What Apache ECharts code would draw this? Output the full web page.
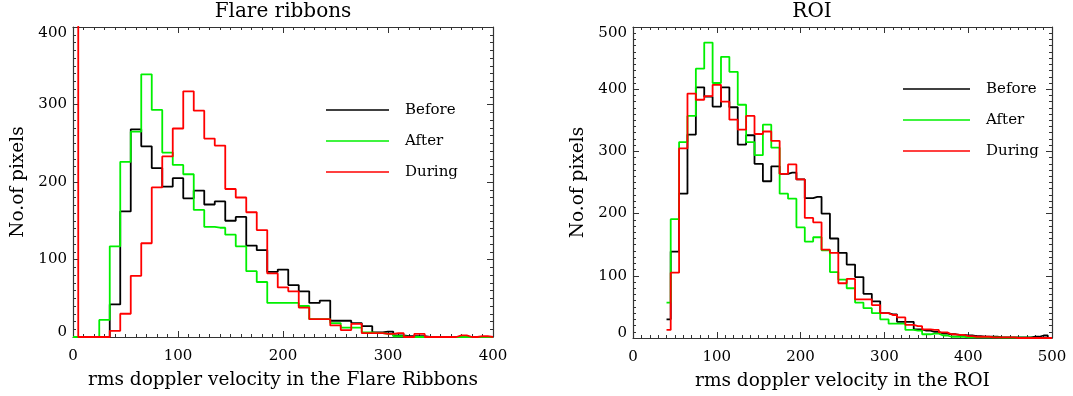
<!DOCTYPE html>
<html>
<head>
<meta charset="utf-8">
<script src="https://cdn.jsdelivr.net/npm/echarts@6/dist/echarts.min.js"></script>
<style>
  html, body { margin: 0; padding: 0; background: #fff; }
  #chart { width: 1073px; height: 396px; }
</style>
</head>
<body>
<div id="chart"></div>
<script>
// Histogram bin centres (rms doppler velocity)
const binsLeft = [0, 10, 20, 30, 40, 50, 60, 70, 80, 90,
  100, 110, 120, 130, 140, 150, 160, 170, 180, 190,
  200, 210, 220, 230, 240, 250, 260, 270, 280, 290,
  300, 310, 320, 330, 340, 350, 360, 370, 380, 390, 400];

// Flare ribbons: pixel counts per bin
const beforeLeft = [0, 0, 0, 0, 42, 162, 268, 246, 218, 194,
  205, 179, 189, 171, 175, 150, 155, 118, 112, 84,
  87, 67, 59, 44, 47, 21, 21, 18, 14, 6,
  7, 2, 1, 1, 0, 0, 0, 0, 0, 0, 0];
const afterLeft = [0, 0, 0, 22, 117, 226, 265, 339, 293, 238,
  222, 210, 164, 142, 141, 132, 117, 85, 71, 44,
  44, 44, 40, 23, 23, 18, 12, 12, 6, 5,
  4, 1, 0, 0, 0, 0, 0, 0, 0, 0, 0];
const duringLeft = [500, 0, 0, 0, 8, 30, 79, 121, 193, 233,
  269, 317, 292, 256, 247, 191, 180, 161, 138, 82,
  64, 59, 38, 23, 23, 15, 9, 17, 5, 5,
  4, 5, 0, 4, 0, 0, 0, 2, 0, 1, 0];

const binsRight = [40, 50, 60, 70, 80, 90, 100, 110, 120, 130,
  140, 150, 160, 170, 180, 190, 200, 210, 220, 230,
  240, 250, 260, 270, 280, 290, 300, 310, 320, 330,
  340, 350, 360, 370, 380, 390, 400, 410, 420, 430,
  440, 450, 460, 470, 480, 490, 500];

// ROI: pixel counts per bin
const beforeRight = [30, 139, 232, 327, 403, 388, 372, 403, 371, 311,
  326, 280, 252, 276, 264, 266, 255, 225, 227, 200,
  160, 137, 118, 98, 71, 59, 40, 38, 26, 26,
  14, 12, 10, 7, 6, 5, 4, 3, 2, 2,
  1, 1, 1, 1, 2, 4, 0];
const afterRight = [57, 191, 315, 357, 433, 475, 410, 452, 428, 375,
  315, 294, 343, 306, 232, 224, 178, 155, 162, 141,
  106, 94, 80, 57, 48, 40, 30, 23, 23, 13,
  12, 6, 7, 4, 2, 2, 1, 1, 1, 1,
  0.5, 0.5, 0.5, 0.5, 0, 0, 0];
const duringRight = [13, 105, 305, 393, 383, 389, 407, 380, 351, 335,
  357, 328, 332, 317, 264, 279, 255, 193, 186, 142,
  137, 88, 95, 62, 62, 53, 40, 37, 33, 21,
  19, 14, 13, 9, 6, 5, 3, 2, 2, 1,
  1, 1, 0, 0, 0, 0, 0];

const titles = ["Flare ribbons", "ROI"];
const xNames = ["rms doppler velocity in the Flare Ribbons", "rms doppler velocity in the ROI"];
const yName = "No.of pixels";
const seriesNames = ["Before", "After", "During"];
const seriesColors = ["#000000", "#00f000", "#ff0000"];

const FONT = "DejaVu Serif";

function pairs(xs, ys) {
  return xs.map((x, i) => [x, ys[i]]);
}

function valueAxis(grid, max, pos, main, name, nameGap) {
  const isX = pos === "bottom" || pos === "top";
  const label = {
    show: main,
    fontFamily: FONT,
    fontSize: 15,
    color: "#000",
    margin: isX ? 12 : 6
  };
  if (!isX) {
    // keep the end labels inside the frame, the way the original plot does
    label.formatter = (v) => v === 0 ? `{lo|${v}}` : (v === max ? `{hi|${v}}` : `${v}`);
    label.rich = {
      lo: { fontFamily: FONT, fontSize: 15, color: "#000", padding: [0, 0, 10, 0] },
      hi: { fontFamily: FONT, fontSize: 15, color: "#000", padding: [12, 0, 0, 0] }
    };
  }
  return {
    type: "value",
    gridIndex: grid,
    position: pos,
    min: 0,
    max: max,
    interval: 100,
    name: main ? name : "",
    nameLocation: "middle",
    nameGap: nameGap,
    nameTextStyle: { fontFamily: FONT, fontSize: 18.5, color: "#000" },
    axisLine: { show: true, onZero: false, lineStyle: { color: "#333", width: 1.2 } },
    axisTick: { show: true, inside: true, length: 6, lineStyle: { color: "#333" } },
    minorTick: { show: true, splitNumber: 10, length: 3, lineStyle: { color: "#333" } },
    axisLabel: label,
    splitLine: { show: false },
    minorSplitLine: { show: false }
  };
}

function histSeries(name, color, xi, yi, data) {
  return {
    name: name,
    type: "line",
    step: "middle",
    xAxisIndex: xi,
    yAxisIndex: yi,
    data: data,
    symbol: "none",
    clip: true,
    color: color,
    lineStyle: { color: color, width: 1.8 },
    animation: false
  };
}

const chart = echarts.init(document.getElementById("chart"));

const legendText = { fontFamily: FONT, fontSize: 15, color: "#000", lineHeight: 20, padding: [0, 0, 0, 11] };
const titleText = { fontFamily: FONT, fontSize: 20, fontWeight: "normal", color: "#000" };

chart.setOption({
  backgroundColor: "#fff",
  animation: false,
  title: [
    { text: titles[0], left: 283, top: 2, textAlign: "center", padding: 0, textStyle: titleText },
    { text: titles[1], left: 812, top: 2, textAlign: "center", padding: 0, textStyle: titleText }
  ],
  legend: [
    { data: seriesNames, orient: "vertical", left: 326, top: 100, padding: 0,
      icon: "rect", itemWidth: 63, itemHeight: 1.5, itemGap: 11, textStyle: legendText },
    { data: seriesNames, orient: "vertical", left: 903, top: 79, padding: 0,
      icon: "rect", itemWidth: 67, itemHeight: 1.5, itemGap: 11, textStyle: legendText }
  ],
  grid: [
    { left: 73, top: 27, width: 420, height: 310 },
    { left: 633, top: 27, width: 419, height: 311 }
  ],
  xAxis: [
    valueAxis(0, 400, "bottom", true, xNames[0], 34),
    valueAxis(0, 400, "top", false, "", 0),
    valueAxis(1, 500, "bottom", true, xNames[1], 34),
    valueAxis(1, 500, "top", false, "", 0)
  ],
  yAxis: [
    valueAxis(0, 400, "left", true, yName, 45),
    valueAxis(0, 400, "right", false, "", 0),
    valueAxis(1, 500, "left", true, yName, 45),
    valueAxis(1, 500, "right", false, "", 0)
  ],
  series: [
    histSeries(seriesNames[0], seriesColors[0], 0, 0, pairs(binsLeft, beforeLeft)),
    histSeries(seriesNames[1], seriesColors[1], 0, 0, pairs(binsLeft, afterLeft)),
    histSeries(seriesNames[2], seriesColors[2], 0, 0, pairs(binsLeft, duringLeft)),
    histSeries(seriesNames[0], seriesColors[0], 2, 2, pairs(binsRight, beforeRight)),
    histSeries(seriesNames[1], seriesColors[1], 2, 2, pairs(binsRight, afterRight)),
    histSeries(seriesNames[2], seriesColors[2], 2, 2, pairs(binsRight, duringRight))
  ]
});
</script>
</body>
</html>
